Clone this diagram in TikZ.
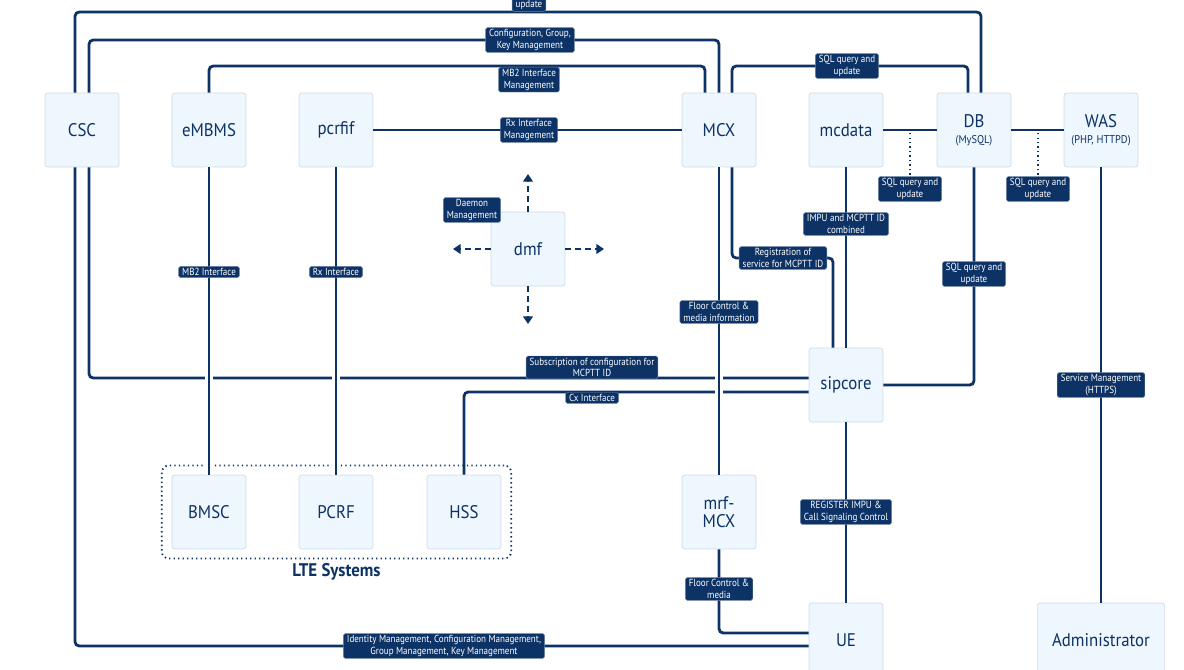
\documentclass[tikz,border=0pt]{standalone}
\usepackage{fontspec}
\setmainfont{PT Sans}[FakeStretch=0.92]
\newfontfamily\tagfont{PT Sans}[FakeStretch=0.88]
\usepackage{tikz}
\usetikzlibrary{arrows.meta, positioning, calc, fit}
\definecolor{navy1}{RGB}{12, 50, 102}
\definecolor{boxfill}{RGB}{238, 246, 254}
\definecolor{boxline}{RGB}{206, 220, 236}

\begin{document}
\begin{tikzpicture}[x=0.025cm, y=-0.025cm,
  unit/.style={draw=boxline, fill=boxfill, line width=0.5pt, rounded corners=2pt, minimum size=1.85cm, align=center, text=navy1, font=\fontsize{13}{12.5}\selectfont},
  tag/.style={fill=navy1, draw=navy1!60, line width=0.3pt, rounded corners=1.2pt, text=white, align=center, inner xsep=2.5pt, inner ysep=1.3pt, font=\tagfont\fontsize{7.3}{8.3}\selectfont},
  link/.style={draw=navy1, line width=2pt, rounded corners=3pt},
  hop/.style={link, preaction={draw=white, line width=5pt}},
  ctrl/.style={draw=navy1, line width=2pt, dash pattern=on 4pt off 3pt, -{Triangle[length=5.5pt, width=7pt]}},
  dotline/.style={draw=navy1, line width=1.3pt, dash pattern=on 1pt off 2.2pt}
]
  \useasboundingbox (0,0) rectangle (1184,670);

  % Components
  \node (csc) [unit] at (82,130) {CSC};
  \node (embms) [unit] at (209,130) {eMBMS};
  \node (pcrfif) [unit] at (336,130) {pcrfif};
  \node (mcx) [unit] at (719,130) {MCX};
  \node (mcdata) [unit] at (846,130) {mcdata};
  \node (db) [unit] at (974,130) {DB\\[-1pt]{\fontsize{8}{9}\selectfont (MySQL)}};
  \node (was) [unit] at (1101,130) {WAS\\[-1pt]{\fontsize{8}{9}\selectfont (PHP, HTTPD)}};
  \node (dmf) [unit] at (528,249) {dmf};
  \node (sipcore) [unit] at (846,385) {sipcore};
  \node (bmsc) [unit] at (209,512) {BMSC};
  \node (pcrf) [unit] at (336,512) {PCRF};
  \node (hss) [unit] at (464,512) {HSS};
  \node (mrfmcx) [unit] at (719,512) {mrf-\\MCX};
  \node (ue) [unit] at (846,640) {UE};
  \node (admin) [unit, minimum width=3.18cm] at (1101,640) {Administrator};

  % LTE group
  \node (lte) [fit=(bmsc)(pcrf)(hss), inner xsep=7pt, inner ysep=6.5pt, dotline, rounded corners=5pt] {};
  \node (lteName) [below=-1pt of lte, text=navy1, font=\bfseries\fontsize{13}{13}\selectfont] {LTE Systems};

  % Upper links
  \draw[link] (75,0 |- csc.north) |- (981,12) -- (981,0 |- db.north);
  \draw[link] (89,0 |- csc.north) |- (719,40) -- (mcx.north);
  \draw[link] (embms.north) |- (705,66) -- (705,0 |- mcx.north);
  \draw[link] (732,0 |- mcx.north) |- (968,66) -- (968,0 |- db.north);
  \draw[link] (pcrfif.east) -- (mcx.west);
  \draw[link] (mcdata.east) -- (db.west);
  \draw[link] (db.east) -- (was.west);
  \coordinate (sqlTapA) at (910,133);
  \coordinate (sqlTapB) at (1038,133);

  % Lower links
  \draw[link] (db.south) |- (sipcore.east);
  \draw[link] (was.south) -- (admin.north);
  \draw[link] (mcdata.south) -- (sipcore.north);
  \draw[link] (732,0 |- mcx.south) |- (833,258) -- (833,0 |- sipcore.north);
  \draw[link] (89,0 |- csc.south) |- (sipcore.west |- 0,378);
  \draw[link] (hss.north) |- (sipcore.west |- 0,392);
  \draw[link] (75,0 |- csc.south) |- (ue.west |- 0,646);
  \draw[link] (mrfmcx.south) |- (ue.west |- 0,633);
  \draw[link] (sipcore.south) -- (ue.north);
  \draw[hop] (embms.south) -- (bmsc.north);
  \draw[hop] (pcrfif.south) -- (pcrf.north);
  \draw[hop] (mcx.south) -- (mrfmcx.north);

  % dmf control arrows
  \coordinate (dUp) at (528,174);
  \coordinate (dDown) at (528,324);
  \coordinate (dLeft) at (453,249);
  \coordinate (dRight) at (604,249);
  \draw[ctrl] (dmf.north) -- (dUp);
  \draw[ctrl] (dmf.south) -- (dDown);
  \draw[ctrl] (dmf.west) -- (dLeft);
  \draw[ctrl] (dmf.east) -- (dRight);

  % Link labels
  \node (tUpd) [tag, minimum height=0.3cm] at (529,5) {update};
  \node (tCfg) [tag] at (530,40) {Configuration, Group,\\Key Management};
  \node (tMbm) [tag, anchor=north] at (529,67) {MB2 Interface\\Management};
  \node (tSqlTop) [tag] at (847,66) {SQL query and\\update};
  \node (tRxm) [tag] at (529,130) {Rx Interface\\Management};
  \node (tSqlA) [tag] at (910,189) {SQL query and\\update};
  \node (tSqlB) [tag] at (1038,189) {SQL query and\\update};
  \draw[dotline] (sqlTapA) -- (tSqlA.north);
  \draw[dotline] (sqlTapB) -- (tSqlB.north);
  \node (tDaemon) [tag] at (472,210) {Daemon\\Management};
  \node (tImpu) [tag] at (846,224) {IMPU and MCPTT ID\\combined};
  \node (tReg) [tag] at (783,258) {Registration of\\service for MCPTT ID};
  \node (tSqlC) [tag] at (974,274) {SQL query and\\update};
  \node (tMb) [tag] at (209,272) {MB2 Interface};
  \node (tRx) [tag] at (336,272) {Rx Interface};
  \node (tFloor) [tag] at (719,312) {Floor Control \&\\media information};
  \node (tSub) [tag, anchor=south] at (592,379) {Subscription of configuration for\\MCPTT ID};
  \node (tCx) [tag, anchor=north] at (592,392) {Cx Interface};
  \node (tSvc) [tag] at (1101,385) {Service Management\\(HTTPS)};
  \node (tSig) [tag] at (846,512) {REGISTER IMPU \&\\Call Signaling Control};
  \node (tMedia) [tag] at (719,589) {Floor Control \&\\media};
  \node (tId) [tag] at (444,646) {Identity Management, Configuration Management,\\Group Management, Key Management};
\end{tikzpicture}
\end{document}
